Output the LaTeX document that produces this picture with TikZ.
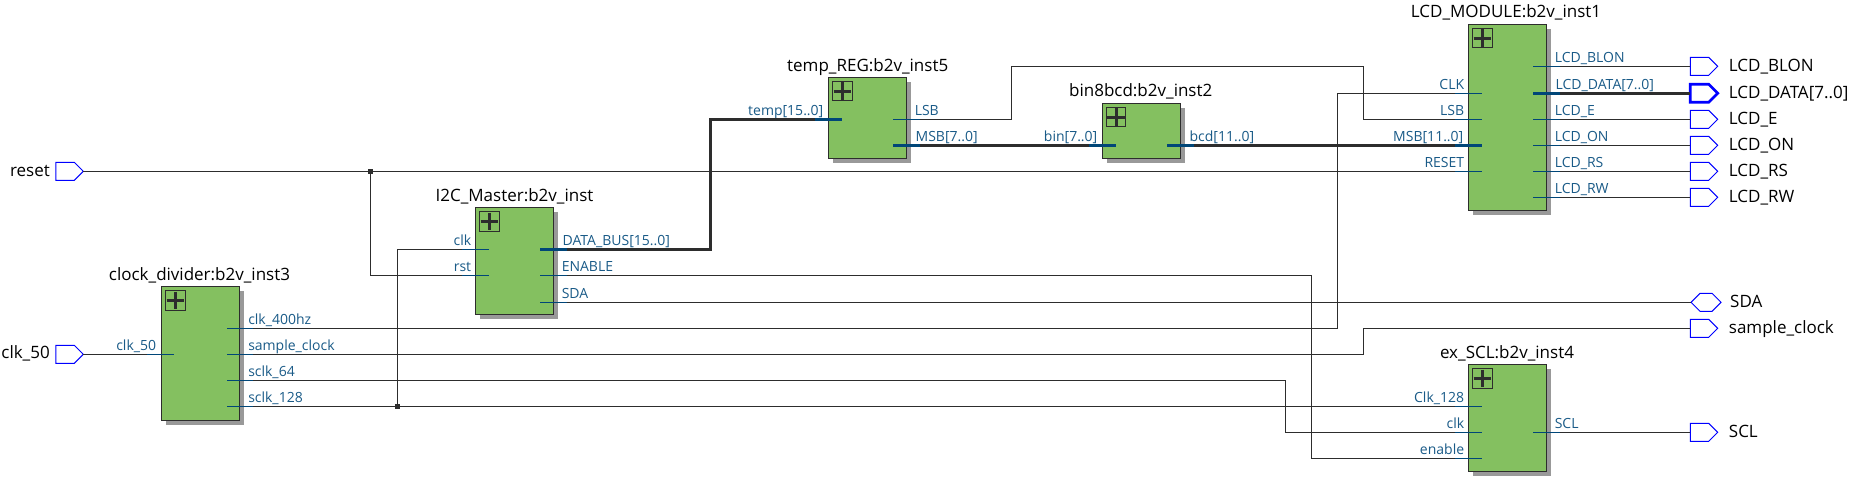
\documentclass[tikz,border=0pt]{standalone}
\usepackage{fontspec}
\setmainfont{Open Sans}
\usetikzlibrary{positioning,shapes.symbols,shadows}
\definecolor{blockgreen}{RGB}{132,192,96}
\definecolor{shadowgray}{RGB}{153,153,153}
\definecolor{wiregray}{RGB}{45,45,45}
\definecolor{stubblue}{RGB}{0,70,120}
\definecolor{textblue}{RGB}{25,90,135}
\tikzset{
  block/.style={draw=wiregray,line width=1pt,fill=blockgreen,inner sep=0pt,outer sep=0pt,
    general shadow={fill=shadowgray,shadow xshift=4.5pt,shadow yshift=-4.5pt}},
  plusbox/.style={draw=wiregray,line width=1pt,inner sep=0pt,outer sep=0pt,minimum size=19.5pt,
    path picture={\draw[wiregray,line width=3pt]
      ([xshift=1pt]path picture bounding box.west) -- ([xshift=-1pt]path picture bounding box.east)
      ([yshift=-1pt]path picture bounding box.north) -- ([yshift=1pt]path picture bounding box.south);}},
  title/.style={anchor=base,inner sep=0pt,font=\fontsize{17}{19}\selectfont,text=black},
  wire/.style={wiregray,line width=1pt},
  bus/.style={wiregray,line width=2.7pt},
  stub/.style={stubblue,line width=1pt},
  busstub/.style={stubblue,line width=2.7pt},
  rlab/.style={anchor=base west,inner sep=0pt,xshift=8pt,yshift=4pt,text=textblue,font=\fontsize{14}{16}\selectfont},
  llab/.style={anchor=base east,inner sep=0pt,xshift=-3.6pt,yshift=4pt,text=textblue,font=\fontsize{14}{16}\selectfont},
  outport/.style={shape=signal,signal to=east,signal from=nowhere,signal pointer angle=90,draw=blue,line width=1pt,
    fill=white,inner sep=0pt,outer sep=0pt,minimum width=27.4pt,minimum height=18pt,anchor=west},
  inport/.style={outport,anchor=east},
  biport/.style={outport,signal to=east and west,minimum width=30pt},
  portname/.style={anchor=base west,inner sep=0pt,font=\fontsize{17}{19}\selectfont,text=black},
  inname/.style={portname,anchor=base east},
  dot/.style={fill=wiregray,inner sep=0pt,outer sep=0pt,minimum size=4.7pt}
}
\begin{document}
\begin{tikzpicture}[x=1pt,y=-1pt]
  \useasboundingbox (0,0) rectangle (1852,480);
  % blocks
  \node[block,minimum width=77.6pt,minimum height=133.6pt] (clkdiv) at (200.5,353.5) {};
  \node[block,minimum width=77.6pt,minimum height=106.6pt] (master) at (514.5,261) {};
  \node[block,minimum width=78pt,minimum height=81pt]      (tempreg) at (867.7,117.8) {};
  \node[block,minimum width=78.4pt,minimum height=55.4pt]  (bincd) at (1141.5,131) {};
  \node[block,minimum width=78pt,minimum height=186pt]     (lcd) at (1507.7,117.3) {};
  \node[block,minimum width=78pt,minimum height=106.6pt]   (exscl) at (1507.7,418) {};

  \node[plusbox] (clkdivP)  [below right=4pt and 4pt of clkdiv.north west] {};
  \node[plusbox] (masterP)  [below right=4pt and 4pt of master.north west] {};
  \node[plusbox] (tempregP) [below right=4pt and 4pt of tempreg.north west] {};
  \node[plusbox] (bincdP)   [below right=4pt and 4pt of bincd.north west] {};
  \node[plusbox] (lcdP)     [below right=4pt and 4pt of lcd.north west] {};
  \node[plusbox] (exsclP)   [below right=4pt and 4pt of exscl.north west] {};

  \node[title] (clkdivT)  at (199.5,280) {clock\_divider:b2v\_inst3};
  \node[title] (masterT)  at (514.5,201) {I2C\_Master:b2v\_inst};
  \node[title] (tempregT) at (867.7,71)  {temp\_REG:b2v\_inst5};
  \node[title] (bincdT)   at (1140.7,96) {bin8bcd:b2v\_inst2};
  \node[title] (lcdT)     at (1506,17)   {LCD\_MODULE:b2v\_inst1};
  \node[title] (exsclT)   at (1507,358)  {ex\_SCL:b2v\_inst4};

  % pins of the blocks
  \draw[stub] (147,354.3) coordinate (clk50) -- node[llab] (clk50L) {clk\_50} ++(26.5,0);
  \draw[stub] (253,328.3) coordinate (clk400) -- node[rlab] (clk400L) {clk\_400hz} ++(-26.5,0);
  \draw[stub] (253,354.3) coordinate (sample) -- node[rlab] (sampleL) {sample\_clock} ++(-26.5,0);
  \draw[stub] (253,380.3) coordinate (sclk64) -- node[rlab] (sclk64L) {sclk\_64} ++(-26.5,0);
  \draw[stub] (253,406.3) coordinate (sclk128) -- node[rlab] (sclk128L) {sclk\_128} ++(-26.5,0);

  \draw[stub] (462,249.3) coordinate (mclk) -- node[llab] (mclkL) {clk} ++(26.5,0);
  \draw[stub] (462,275.3) coordinate (mrst) -- node[llab] (mrstL) {rst} ++(26.5,0);
  \draw[busstub] (566.5,249.3) coordinate (mdata) -- node[rlab] (mdataL) {DATA\_BUS[15..0]} ++(-26.5,0);
  \draw[stub] (566.5,275.3) coordinate (menable) -- node[rlab] (menableL) {ENABLE} ++(-26.5,0);
  \draw[stub] (566.5,302.3) coordinate (msda) -- node[rlab] (msdaL) {SDA} ++(-26.5,0);

  \draw[busstub] (815,119.3) coordinate (rtemp) -- node[llab] (rtempL) {temp[15..0]} ++(26.5,0);
  \draw[stub] (919.5,119.3) coordinate (rlsb) -- node[rlab] (rlsbL) {LSB} ++(-26.5,0);
  \draw[busstub] (919.5,145.3) coordinate (rmsb) -- node[rlab] (rmsbL) {MSB[7..0]} ++(-26.5,0);

  \draw[busstub] (1089,145.3) coordinate (bbin) -- node[llab] (bbinL) {bin[7..0]} ++(26.5,0);
  \draw[busstub] (1193.5,145.3) coordinate (bbcd) -- node[rlab] (bbcdL) {bcd[11..0]} ++(-26.5,0);

  \draw[stub] (1455,93.3) coordinate (lclk) -- node[llab] (lclkL) {CLK} ++(26.5,0);
  \draw[stub] (1455,119.3) coordinate (llsb) -- node[llab] (llsbL) {LSB} ++(26.5,0);
  \draw[busstub] (1455,145.3) coordinate (lmsb) -- node[llab] (lmsbL) {MSB[11..0]} ++(26.5,0);
  \draw[stub] (1455,171.3) coordinate (lreset) -- node[llab] (lresetL) {RESET} ++(26.5,0);
  \draw[stub] (1559.5,66.3) coordinate (lblon) -- node[rlab] (lblonL) {LCD\_BLON} ++(-26.5,0);
  \draw[busstub] (1559.5,93.3) coordinate (ldata) -- node[rlab] (ldataL) {LCD\_DATA[7..0]} ++(-26.5,0);
  \draw[stub] (1559.5,119.3) coordinate (le) -- node[rlab] (leL) {LCD\_E} ++(-26.5,0);
  \draw[stub] (1559.5,145.3) coordinate (lon) -- node[rlab] (lonL) {LCD\_ON} ++(-26.5,0);
  \draw[stub] (1559.5,171.3) coordinate (lrs) -- node[rlab] (lrsL) {LCD\_RS} ++(-26.5,0);
  \draw[stub] (1559.5,197.3) coordinate (lrw) -- node[rlab] (lrwL) {LCD\_RW} ++(-26.5,0);

  \draw[stub] (1455,406.3) coordinate (eclk128) -- node[llab] (eclk128L) {Clk\_128} ++(26.5,0);
  \draw[stub] (1455,432.3) coordinate (eclk) -- node[llab] (eclkL) {clk} ++(26.5,0);
  \draw[stub] (1455,458.3) coordinate (eenable) -- node[llab] (eenableL) {enable} ++(26.5,0);
  \draw[stub] (1559.5,432.3) coordinate (escl) -- node[rlab] (esclL) {SCL} ++(-26.5,0);

  % top level ports
  \node[inport] (resetP) at (83.3,171.3) {};
  \node[inport] (clkP)   at (83.3,354.3) {};
  \node[inname] (resetN) at (50,176) {reset};
  \node[inname] (clkN)   at (50,358.7) {clk\_50};

  \node[outport] (blonP)   at (1690.3,66.3) {};
  \node[outport,line width=2.7pt] (dataP) at (1690.3,93.3) {};
  \node[outport] (eP)      at (1690.3,119.3) {};
  \node[outport] (onP)     at (1690.3,145.3) {};
  \node[outport] (rsP)     at (1690.3,171.3) {};
  \node[outport] (rwP)     at (1690.3,197.3) {};
  \node[biport]  (sdaP)    at (1691,302.3) {};
  \node[outport] (sampleP) at (1690.3,328.3) {};
  \node[outport] (sclP)    at (1690.3,432.3) {};

  \node[portname] (blonN)   at (1728.7,71) {LCD\_BLON};
  \node[portname] (dataN)   at (1728.7,98) {LCD\_DATA[7..0]};
  \node[portname] (eN)      at (1728.7,124) {LCD\_E};
  \node[portname] (onN)     at (1728.7,150) {LCD\_ON};
  \node[portname] (rsN)     at (1728.7,176) {LCD\_RS};
  \node[portname] (rwN)     at (1728.7,202) {LCD\_RW};
  \node[portname] (sdaN)    at (1730,307) {SDA};
  \node[portname] (sampleN) at (1728.7,333) {sample\_clock};
  \node[portname] (sclN)    at (1728.7,437) {SCL};

  % bends and joints
  \node[dot] (resetJ) at (370.3,171.3) {};
  \node[dot] (clkJ)   at (397.3,406.3) {};
  \coordinate (busB)    at (710.7,249.3);
  \coordinate (lsbB)    at (1011.3,66.3);
  \coordinate (lsbC)    at (1363.3,66.3);
  \coordinate (lcdclkB) at (1337.3,328.3);
  \coordinate (sampleB) at (1363.3,354.3);
  \coordinate (sclkB)   at (1285.8,380.3);
  \coordinate (enableB) at (1311.7,275.3);

  % wires
  \draw[wire] (resetP.east) -- (lreset);
  \draw[wire] (resetJ) |- (mrst);
  \draw[wire] (clkP.east) -- (clk50);
  \draw[wire] (sclk128) -- (eclk128);
  \draw[wire] (clkJ) |- (mclk);
  \draw[bus]  (mdata) -- (busB) |- (rtemp);
  \draw[wire] (rlsb) -| (lsbB) -- (lsbC) |- (llsb);
  \draw[bus]  (rmsb) -- (bbin);
  \draw[bus]  (bbcd) -- (lmsb);
  \draw[wire] (clk400) -- (lcdclkB) |- (lclk);
  \draw[wire] (sample) -- (sampleB) |- (sampleP.west);
  \draw[wire] (sclk64) -- (sclkB) |- (eclk);
  \draw[wire] (menable) -- (enableB) |- (eenable);
  \draw[wire] (msda) -- (sdaP.west);
  \draw[wire] (escl) -- (sclP.west);
  \draw[wire] (lblon) -- (blonP.west);
  \draw[bus]  (ldata) -- (dataP.west);
  \draw[wire] (le) -- (eP.west);
  \draw[wire] (lon) -- (onP.west);
  \draw[wire] (lrs) -- (rsP.west);
  \draw[wire] (lrw) -- (rwP.west);
\end{tikzpicture}
\end{document}
